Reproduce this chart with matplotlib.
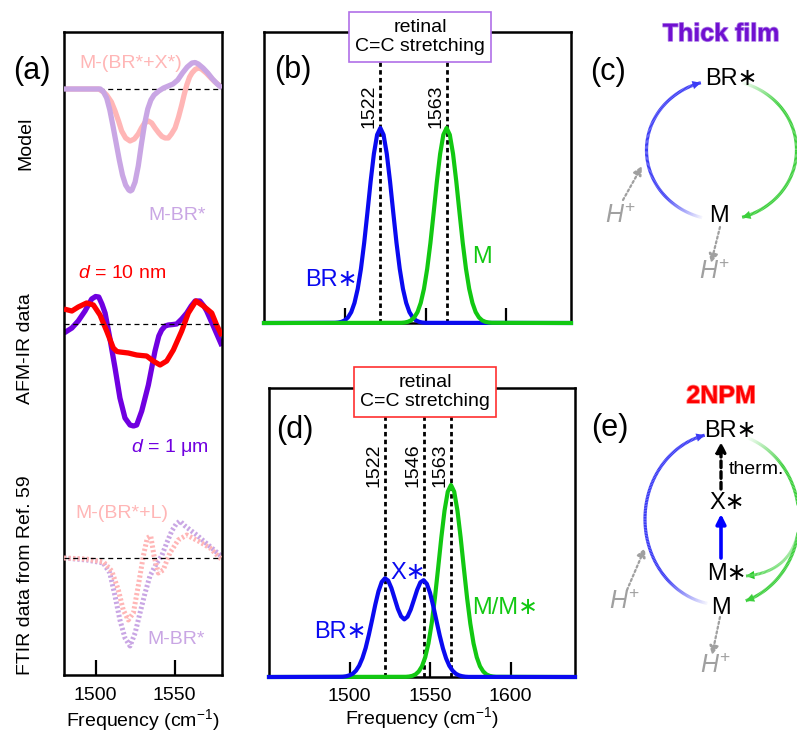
import numpy as np
import matplotlib
matplotlib.use("Agg")
import matplotlib.pyplot as plt
import matplotlib.patheffects as pe
from matplotlib.collections import LineCollection
from matplotlib.patches import FancyArrowPatch

plt.rcParams["font.family"] = ["Liberation Sans", "DejaVu Sans"]
plt.rcParams["mathtext.fontset"] = "custom"
plt.rcParams["mathtext.rm"] = "Liberation Sans"
plt.rcParams["mathtext.it"] = "Liberation Sans:italic"
plt.rcParams["mathtext.bf"] = "Liberation Sans:bold"

W, H = 797, 733

# ---- panel (a): spectra (a.u., baseline = 0) ----
model_mbr_f = [1480, 1503, 1505, 1507, 1509, 1511, 1513, 1515, 1517, 1519, 1521, 1522, 1523, 1525,
               1527, 1529, 1531, 1533, 1535, 1537, 1540, 1543, 1546, 1549, 1552, 1555, 1558, 1561,
               1563, 1565, 1568, 1571, 1574, 1577, 1580]
model_mbr = [0, 0, -3, -9, -21, -37, -54, -71, -86, -96, -101, -102, -101, -93,
             -77, -55, -35, -20, -11, -6, -2, 1, 3, 5, 9, 16, 22, 26,
             26.5, 25, 21, 16, 10, 5, 1]
model_mbrx_f = [1480, 1502, 1505, 1507, 1510, 1512.3, 1514.5, 1516.5, 1519, 1521.8, 1524.5, 1527,
                1529, 1531, 1533.4, 1535.5, 1537.6, 1540, 1542, 1544, 1546, 1548, 1550.3, 1552.5,
                1554.5, 1556, 1557.7, 1559.5, 1561, 1563, 1565, 1567, 1570, 1573, 1575.6, 1578, 1580]
model_mbrx = [0, 0, -3, -6, -13, -22, -32, -42, -49, -52, -50, -45,
              -39, -34, -32, -34, -39, -44, -47.5, -49, -49, -45, -39, -28,
              -16, -6, 4, 12, 16, 19.5, 21, 20, 16, 11, 7, 4, 2]

afm_1um_f = [1480, 1485, 1489, 1493.3, 1497.5, 1500, 1502, 1504, 1506, 1509, 1512.3, 1515.4, 1518.6,
             1521.8, 1524, 1526, 1529.2, 1533.4, 1537.6, 1540, 1541.8, 1544, 1546, 1549, 1551.3,
             1554.5, 1557.7, 1560.5, 1563, 1566, 1568.5, 1570.3, 1574.5, 1580]
afm_1um = [-9, -4, 3, 13, 25, 27.5, 27, 20, 11, -14, -44, -74, -94,
           -101, -102, -101, -87, -61, -27, -12, -6, -2, -1, -0.5, 0,
           5, 11, 18, 23, 23, 18, 13, -2, -22]
afm_10nm_f = [1480, 1485, 1489, 1494.3, 1498.6, 1502.8, 1507, 1511.2, 1513.5, 1515.4, 1520.7, 1526,
              1529, 1532.3, 1536.5, 1540.8, 1545, 1549.2, 1554.5, 1558.7, 1563.5, 1568.2, 1573.5,
              1576.6, 1580]
afm_10nm = [15, 13, 17, 21, 19, 9, -7, -24, -27.5, -28, -29, -31,
            -31.5, -32, -37, -41, -37, -26, -7, 11, 23, 18, 11, -1, -12]

ftir_mbr_f = [1480, 1494.3, 1504.9, 1509, 1512.3, 1515.4, 1518.6, 1521.8, 1525, 1528.1, 1531.3,
              1534.4, 1538.7, 1541.8, 1545, 1548.2, 1551, 1553.4, 1556.6, 1564, 1571.3, 1578.7, 1580]
ftir_mbr = [0, -2, -5, -15, -38, -62, -80, -88, -75, -55, -35,
            -18, -5, 2, 15, 27, 34, 37, 32, 23, 13, 3, 1]
ftir_mbrl_f = [1480, 1494, 1505, 1510.2, 1514.4, 1517.5, 1520.7, 1523.9, 1527, 1530.2, 1532.7,
               1534.9, 1537, 1539.7, 1542.8, 1547, 1552.3, 1557.7, 1565, 1572.4, 1578.7, 1580]
ftir_mbrl = [0, -1, -4, -13, -32, -52, -62, -55, -28, 2, 20,
             22, 2, -15, -12, 5, 18, 23, 17, 10, 0, -1]

# ---- panel (b): thick film model bands ----
b_br_f = [1450, 1494, 1496, 1498, 1500, 1502, 1504, 1506, 1508, 1510, 1512, 1514, 1516, 1518, 1520,
          1522, 1524, 1526, 1528, 1530, 1532, 1534, 1536, 1538, 1540, 1542, 1544, 1546, 1548, 1550, 1640]
b_br = [0, 0.001, 0.0025, 0.006, 0.0135, 0.029, 0.056, 0.103, 0.175, 0.278, 0.411, 0.566, 0.726,
        0.867, 0.965, 1.0, 0.965, 0.867, 0.726, 0.566, 0.411, 0.278, 0.175, 0.103, 0.056, 0.029,
        0.0135, 0.006, 0.0025, 0.001, 0]
b_m_f = [1450, 1535, 1537, 1539, 1541, 1543, 1545, 1547, 1549, 1551, 1553, 1555, 1557, 1559, 1561,
         1563, 1565, 1567, 1569, 1571, 1573, 1575, 1577, 1579, 1581, 1583, 1585, 1587, 1589, 1591, 1640]
b_m = [0, 0.001, 0.0025, 0.006, 0.0135, 0.029, 0.056, 0.103, 0.175, 0.278, 0.411, 0.566, 0.726,
       0.867, 0.965, 1.0, 0.965, 0.867, 0.726, 0.566, 0.411, 0.278, 0.175, 0.103, 0.056, 0.029,
       0.0135, 0.006, 0.0025, 0.001, 0]

# ---- panel (d): 2NPM model bands ----
d_blue_f = [1450, 1494, 1496, 1498, 1500, 1502, 1504, 1506, 1508, 1510, 1512, 1514, 1516, 1518, 1520,
            1522, 1524, 1526, 1528, 1530, 1532, 1534, 1536, 1538, 1540, 1542, 1544, 1546, 1548, 1550,
            1552, 1554, 1556, 1558, 1560, 1562, 1564, 1566, 1568, 1570, 1572, 1574, 1640]
d_blue = [0, 0.001, 0.0015, 0.004, 0.009, 0.017, 0.033, 0.059, 0.098, 0.151, 0.220, 0.297, 0.377,
          0.447, 0.495, 0.514, 0.502, 0.463, 0.409, 0.355, 0.316, 0.300, 0.314, 0.351, 0.402, 0.454,
          0.493, 0.504, 0.485, 0.438, 0.369, 0.292, 0.216, 0.149, 0.096, 0.058, 0.033, 0.017,
          0.0085, 0.004, 0.0015, 0.0005, 0]
d_green_f = [1450, 1535, 1537, 1539, 1541, 1543, 1545, 1547, 1549, 1551, 1553, 1555, 1557, 1559, 1561,
             1563, 1565, 1567, 1569, 1571, 1573, 1575, 1577, 1579, 1581, 1583, 1585, 1587, 1589, 1591, 1640]
d_green = [0, 0.001, 0.0025, 0.006, 0.0135, 0.029, 0.056, 0.103, 0.175, 0.278, 0.411, 0.566, 0.726,
           0.867, 0.965, 1.0, 0.965, 0.867, 0.726, 0.566, 0.411, 0.278, 0.175, 0.103, 0.056, 0.029,
           0.0135, 0.006, 0.0025, 0.001, 0]

b_peaks = [1522, 1563]
d_peaks = [1522, 1546, 1563]

LAV, PINK = "#c9a6e4", "#ffb6b6"
PURP, RED = "#7000e0", "#ff0000"
BLUE, GREEN = "#0a0af0", "#12c812"
ARC_B, ARC_G = "#3c3cf5", "#3ccf3c"
GRAY = "#a0a0a0"
FS = 14

fig = plt.figure(figsize=(W / 100, H / 100), dpi=100)


def px_axes(l, t, r, b):
    return fig.add_axes([l / W, 1 - b / H, (r - l) / W, (b - t) / H])


def style(ax, ticks, labels):
    for s in ax.spines.values():
        s.set_linewidth(1.8)
    ax.set_yticks([])
    ax.set_xticks(ticks)
    ax.tick_params(axis="x", direction="in", length=11, width=1.6, pad=9, labelsize=FS)
    if not labels:
        ax.set_xticklabels([])


# (a)
axa = px_axes(64, 32, 222, 675)
offs = [-57, -292, -526]
axa.set_xlim(1480, 1580)
axa.set_ylim(-643, 0)
for o, z in zip(offs, [1, 5, 5]):
    axa.axhline(o, color="k", lw=0.9, ls=(0, (4, 3)), zorder=z)
kw = dict(lw=3.8, solid_joinstyle="round", solid_capstyle="butt")
axa.plot(model_mbrx_f, np.array(model_mbrx) + offs[0], color=PINK, zorder=2, **kw)
axa.plot(model_mbr_f, np.array(model_mbr) + offs[0], color=LAV, zorder=3, **kw)
axa.plot(afm_1um_f, np.array(afm_1um) + offs[1], color=PURP, zorder=2, **kw)
axa.plot(afm_10nm_f, np.array(afm_10nm) + offs[1], color=RED, zorder=3, **kw)
dkw = dict(lw=3.6, ls=(0, (0.45, 0.45)))
axa.plot(ftir_mbr_f, np.array(ftir_mbr) + offs[2], color=LAV, zorder=2, **dkw)
axa.plot(ftir_mbrl_f, np.array(ftir_mbrl) + offs[2], color=PINK, zorder=3, **dkw)
style(axa, [1500, 1550], True)
axa.set_xlabel("Frequency (cm$^{-1}$)", fontsize=FS, labelpad=2)

# (b)
axb = px_axes(264, 32, 571, 323)
axb.set_xlim(1450, 1640)
axb.set_ylim(0, 1.492)
for p in b_peaks:
    axb.axvline(p, color="k", lw=2, ls=(0, (1.6, 1.2)), zorder=1)
axb.plot(b_br_f, b_br, color=BLUE, lw=3, clip_on=False, zorder=3)
axb.plot(b_m_f, b_m, color=GREEN, lw=3, clip_on=False, zorder=4)
for p in b_peaks:
    axb.text(p - 1.5, 1.0, str(p), rotation=90, ha="right", va="bottom", fontsize=FS)
style(axb, [1500, 1550, 1600], False)

# (d)
axd = px_axes(269, 388, 575, 677)
axd.set_xlim(1450, 1640)
axd.set_ylim(0, 1.505)
for p in d_peaks:
    axd.axvline(p, color="k", lw=2, ls=(0, (1.6, 1.2)), zorder=1)
axd.plot(d_green_f, d_green, color=GREEN, lw=3, clip_on=False, zorder=3)
axd.plot(d_blue_f, d_blue, color=BLUE, lw=3, clip_on=False, zorder=4)
for p in d_peaks:
    axd.text(p - 1.5, 0.99, str(p), rotation=90, ha="right", va="bottom", fontsize=FS)
style(axd, [1500, 1550, 1600], True)
axd.tick_params(axis="x", pad=8)
axd.set_xlabel("Frequency (cm$^{-1}$)", fontsize=FS, labelpad=0)

# overlay in figure pixels for labels and the cycle diagrams
ov = fig.add_axes([0, 0, 1, 1])
ov.set_xlim(0, W)
ov.set_ylim(H, 0)
ov.axis("off")


def t(x, y, s, **k):
    k.setdefault("fontsize", FS)
    ov.text(x, y, s, ha=k.pop("ha", "center"), va=k.pop("va", "center"), **k)


for x, y, s in [(32, 71, "(a)"), (293, 70, "(b)"), (608, 72, "(c)"), (295, 430, "(d)"), (610, 428, "(e)")]:
    t(x, y, s, fontsize=22)

t(26, 143, "Model", rotation=90)
t(26, 349, "AFM-IR data", rotation=90)
t(26, 575, "FTIR data from Ref. 59", rotation=90)
t(131, 63, "M-(BR*+X*)", color=PINK)
t(177, 215, "M-BR*", color=LAV)
t(122, 273, "$d$ = 10 nm", color=RED)
t(170, 448, "$d$ = 1 μm", color=PURP)
t(122, 514, "M-(BR*+L)", color=PINK)
t(176, 640, "M-BR*", color=LAV)

t(331, 280, "BR∗", color=BLUE, fontsize=17)
t(482, 257, "M", color=GREEN, fontsize=17)
t(340, 632, "BR∗", color=BLUE, fontsize=17)
t(408, 573, "X∗", color=BLUE, fontsize=17)
t(505, 608, "M/M∗", color=GREEN, fontsize=17)

for cx, cy, ec in [(420, 37, "#b070e8"), (425, 392, "#ff3030")]:
    t(cx, cy, "retinal\nC=C stretching", linespacing=1.2,
      bbox=dict(boxstyle="square,pad=0.33", fc="white", ec=ec, lw=1.2))

t(721, 34, "Thick film", color="#7010d0", fontsize=18, fontweight="bold",
  path_effects=[pe.withStroke(linewidth=1.2, foreground="#b080e8")])
t(721, 396, "2NPM", color=RED, fontsize=18, fontweight="bold",
  path_effects=[pe.withStroke(linewidth=1.2, foreground="#ff8080")])


def head(p0, p1, color, ms=15):
    ov.add_patch(FancyArrowPatch(p0, p1, arrowstyle="-|>", mutation_scale=ms, color=color,
                                 lw=0, shrinkA=0, shrinkB=0))


def fade_line(pts, color, lw, span=0.22, a0=0.05):
    segs = np.stack([pts[:-1], pts[1:]], axis=1)
    ramp = np.linspace(0, 1, len(segs))
    alphas = np.clip(a0 + (1 - a0) * ramp / span, 0, 1)
    rgba = [matplotlib.colors.to_rgba(color, al) for al in alphas]
    ov.add_collection(LineCollection(segs, colors=rgba, lw=lw, capstyle="butt"))


def arc(cx, cy, rx, ry, a0, a1, color, lw=2.3):
    a = np.radians(np.linspace(a0, a1, 150))
    pts = np.column_stack([cx + rx * np.cos(a), cy - ry * np.sin(a)])
    fade_line(pts, color, lw)
    head(pts[-4], pts[-1], color)


def dotted(p0, p1):
    ov.add_patch(FancyArrowPatch(p0, p1, arrowstyle="-|>", mutation_scale=13, color=GRAY,
                                 lw=1.6, ls=(0, (1, 1.2)), shrinkA=0, shrinkB=0))


# (c) thick film cycle
arc(721.5, 150, 75, 70, 255, 106, ARC_B)
arc(721.5, 150, 75, 70, 74, -74, ARC_G)
t(731, 79, "BR∗", fontsize=17)
t(719, 216, "M", fontsize=17)
dotted((623, 200), (642, 166))
dotted((720, 227), (711, 263))
t(621, 216, "$H^{+}$", color=GRAY, fontsize=18)
t(715, 272, "$H^{+}$", color=GRAY, fontsize=18)

# (e) 2NPM cycle
arc(722, 519, 77, 86, 259, 103, ARC_B)
arc(722, 519, 77, 86, 70, -72, ARC_G)
tt = np.linspace(0, 1, 60)
P0, P1, P2 = np.array([798, 532]), np.array([790, 572]), np.array([746, 576])
bez = ((1 - tt) ** 2)[:, None] * P0 + (2 * (1 - tt) * tt)[:, None] * P1 + (tt ** 2)[:, None] * P2
fade_line(bez, "#5ad85a", 2.1, span=0.9, a0=0.4)
head(bez[-4], bez[-1], "#22c822")
t(730, 431, "BR∗", fontsize=17)
t(727, 503, "X∗", fontsize=17)
t(727, 574, "M∗", fontsize=17)
t(721, 608, "M", fontsize=17)
t(756, 470, "therm.", fontsize=FS)
ov.add_patch(FancyArrowPatch((721, 489), (721, 442), arrowstyle="-|>", mutation_scale=14,
                             color="k", lw=2.4, ls=(0, (2, 1.2)), shrinkA=0, shrinkB=0))
ov.add_patch(FancyArrowPatch((721, 558), (721, 514), arrowstyle="-|>", mutation_scale=14,
                             color="#0000ff", lw=2.6, shrinkA=0, shrinkB=0))
dotted((627, 590), (645, 548))
dotted((720, 617), (712, 655))
t(625, 602, "$H^{+}$", color=GRAY, fontsize=18)
t(716, 666, "$H^{+}$", color=GRAY, fontsize=18)

fig.savefig("out.png", dpi=100)
